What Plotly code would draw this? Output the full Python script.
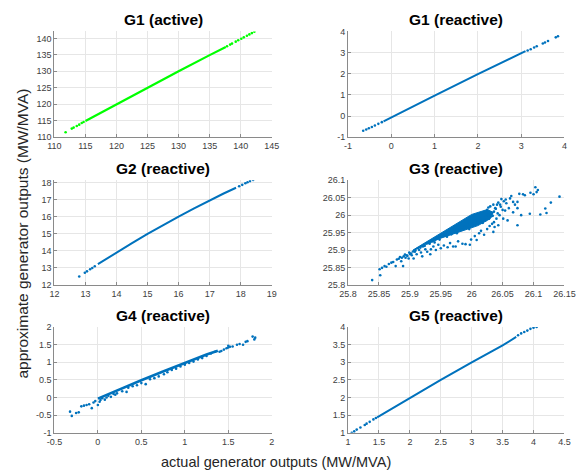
import plotly.graph_objects as go

BLUE = "#0072BD"
GREEN = "#00FF00"

# ---------------- data ----------------
# G1 active
g1a_dense_x = [115.0, 120.0, 125.0, 130.0, 135.0, 137.6]
g1a_dense_y = [114.9, 120.0, 125.0, 130.0, 134.9, 137.4]
g1a_x = [111.8, 112.8, 113.1, 113.6, 114.0, 114.4, 114.7, 137.8, 138.3, 138.6, 139.2, 139.6, 140.1, 140.5, 141.0, 141.4, 141.8, 142.2]
g1a_y = [111.5, 112.6, 112.9, 113.4, 113.8, 114.3, 114.6, 137.6, 138.1, 138.4, 139.0, 139.4, 139.9, 140.3, 140.8, 141.2, 141.6, 142.0]

# G1 reactive
g1r_dense_x = [-0.18, 0.0, 1.0, 2.0, 3.0, 3.1]
g1r_dense_y = [-0.25, -0.07, 0.96, 1.98, 2.98, 3.07]
g1r_x = [-0.65, -0.58, -0.52, -0.45, -0.38, -0.30, -0.22, 3.15, 3.22, 3.3, 3.36, 3.5, 3.55, 3.62, 3.8, 3.85]
g1r_y = [-0.70, -0.64, -0.58, -0.52, -0.45, -0.37, -0.29, 3.10, 3.16, 3.24, 3.30, 3.43, 3.48, 3.55, 3.72, 3.77]

# G2 reactive
g2_dense_x = [13.4, 13.7, 14.0, 14.5, 15.0, 15.5, 16.0, 16.5, 17.0, 17.45, 17.85]
g2_dense_y = [13.22, 13.57, 13.91, 14.46, 15.0, 15.52, 16.02, 16.5, 16.97, 17.37, 17.71]
g2_x = [12.8, 12.98, 13.05, 13.15, 13.22, 13.3, 17.95, 18.05, 18.15, 18.22, 18.3, 18.4]
g2_y = [12.5, 12.72, 12.8, 12.92, 13.0, 13.1, 17.8, 17.88, 17.97, 18.03, 18.1, 18.17]

# G3 reactive: dense core outline and scattered points
g3_core_x = [25.905, 25.95, 26.0, 26.025, 26.035, 26.03, 26.01, 25.98, 25.95, 25.925, 25.905]
g3_core_y = [25.900, 25.949, 26.002, 26.016, 26.008, 25.990, 25.970, 25.952, 25.934, 25.915, 25.898]
g3_x = [25.839, 25.852, 25.851, 25.855, 25.859, 25.862, 25.866, 25.870, 25.873, 25.877, 25.879, 25.882,
        25.886, 25.889, 25.890, 25.893, 25.896, 25.898, 25.900, 25.903, 25.906, 25.908, 25.911, 25.915,
        25.918, 25.920, 25.925, 25.928, 25.933, 25.934, 25.938, 25.942, 25.946, 25.950, 25.955, 25.961,
        25.965, 25.970, 25.974, 25.978, 25.985, 25.990, 25.997, 25.999, 26.005, 26.008, 26.012, 26.015,
        26.020, 26.025, 26.029, 26.033, 26.035, 26.037, 26.040, 26.043, 26.043, 26.045, 26.048, 26.050,
        26.051, 26.054, 26.056, 26.058, 26.060, 26.064, 26.067, 26.067, 26.070, 26.074, 26.074, 26.074,
        26.077, 26.080, 26.083, 26.086, 26.094, 26.095, 26.100, 26.103, 26.107, 26.105, 26.111, 26.119,
        26.121, 26.128, 26.142, 26.025, 26.030, 26.035, 26.038, 26.032, 26.028, 26.022, 26.046, 26.052,
        25.884, 25.887, 25.892, 25.895, 25.899, 25.902, 25.905, 25.909, 25.913, 25.917, 25.921, 25.924,
        25.929, 25.932, 25.936, 25.940, 25.944, 25.948, 25.952, 25.957, 25.960, 25.963, 25.967, 25.972,
        25.976, 25.981, 25.984, 25.988, 25.993, 25.996, 26.002, 26.006, 26.010, 26.014, 26.018, 26.023,
        26.027, 26.031, 26.036, 26.039, 26.042, 26.047, 26.055, 26.062, 26.036, 26.041, 26.034, 26.027]
g3_y = [25.814, 25.828, 25.845, 25.849, 25.854, 25.852, 25.860, 25.864, 25.866, 25.854, 25.873, 25.875,
        25.868, 25.854, 25.882, 25.878, 25.883, 25.876, 25.889, 25.885, 25.876, 25.895, 25.888, 25.900,
        25.893, 25.882, 25.902, 25.895, 25.888, 25.902, 25.910, 25.900, 25.915, 25.905, 25.913, 25.908,
        25.920, 25.910, 25.910, 25.925, 25.918, 25.917, 25.915, 25.930, 25.940, 25.929, 25.948, 25.955,
        25.944, 25.960, 25.969, 25.975, 25.952, 25.966, 25.990, 25.971, 26.036, 26.000, 26.046, 26.015,
        25.990, 26.013, 26.034, 25.985, 26.020, 26.055, 26.008, 26.038, 26.030, 26.020, 25.971, 26.038,
        26.061, 26.000, 26.060, 26.057, 26.004, 26.064, 26.060, 26.080, 26.072, 26.066, 26.002, 26.019,
        26.006, 26.036, 26.053, 26.015, 26.025, 26.030, 26.020, 26.005, 25.990, 25.985, 26.030, 26.040,
        25.880, 25.878, 25.887, 25.885, 25.893, 25.890, 25.896, 25.899, 25.905, 25.907, 25.910, 25.912,
        25.920, 25.918, 25.925, 25.922, 25.935, 25.930, 25.940, 25.945, 25.938, 25.950, 25.945, 25.958,
        25.948, 25.962, 25.958, 25.966, 25.972, 25.960, 25.975, 25.985, 25.980, 25.990, 25.978, 25.995,
        26.000, 25.996, 26.010, 26.018, 26.005, 26.024, 26.045, 26.048, 25.980, 26.030, 25.998, 26.022]

# G4 reactive
g4_dense_x = [0.0, 0.25, 0.5, 0.75, 1.0, 1.25, 1.38]
g4_dense_y = [-0.03, 0.24, 0.49, 0.74, 0.99, 1.22, 1.33]
g4_x = [-0.32, -0.30, -0.25, -0.22, -0.19, -0.16, -0.13, -0.10, -0.07, -0.05, -0.03, 0.00, 0.02, 0.03,
        0.05, 0.08, 0.10, 0.12, 0.15, 0.18, 0.20, 0.22, 0.28, 0.33, 0.35, 0.40, 0.45, 0.50, 0.55, 0.60,
        0.65, 0.70, 0.76, 0.80, 0.85, 0.90, 0.95, 1.00, 1.05, 1.10, 1.15, 1.20, 1.25, 1.30, 1.35, 1.40,
        1.42, 1.45, 1.48, 1.50, 1.50, 1.52, 1.55, 1.60, 1.63, 1.67, 1.70, 1.72, 1.78, 1.80, 1.81]
g4_y = [-0.40, -0.52, -0.44, -0.42, -0.25, -0.23, -0.21, -0.19, -0.30, -0.14, -0.10, -0.21, -0.12, -0.07,
        -0.02, -0.06, 0.00, 0.05, 0.02, 0.10, 0.08, 0.12, 0.18, 0.16, 0.28, 0.32, 0.35, 0.41, 0.38, 0.52,
        0.55, 0.60, 0.66, 0.72, 0.78, 0.82, 0.88, 0.93, 0.98, 1.02, 1.08, 1.12, 1.18, 1.25, 1.30, 1.30,
        1.32, 1.36, 1.40, 1.47, 1.42, 1.44, 1.45, 1.50, 1.52, 1.50, 1.58, 1.60, 1.73, 1.65, 1.70]

# G5 reactive
g5_dense_x = [1.47, 2.0, 2.5, 3.0, 3.5, 3.72]
g5_dense_y = [1.44, 1.99, 2.5, 3.0, 3.48, 3.72]
g5_x = [1.06, 1.10, 1.14, 1.20, 1.27, 1.30, 1.35, 1.41, 1.45, 3.75, 3.80, 3.85, 3.90, 3.95, 4.00, 4.05]
g5_y = [1.00, 1.04, 1.09, 1.15, 1.22, 1.26, 1.31, 1.38, 1.42, 3.77, 3.82, 3.86, 3.90, 3.95, 3.98, 4.00]

titles = ["G1 (active)", "G1 (reactive)", "G2 (reactive)", "G3 (reactive)", "G4 (reactive)", "G5 (reactive)"]

x_ticks = [
    [110, 115, 120, 125, 130, 135, 140, 145],
    [-1, 0, 1, 2, 3, 4],
    [12, 13, 14, 15, 16, 17, 18, 19],
    [25.8, 25.85, 25.9, 25.95, 26.0, 26.05, 26.1, 26.15],
    [-0.5, 0, 0.5, 1, 1.5, 2],
    [1, 1.5, 2, 2.5, 3, 3.5, 4, 4.5],
]
x_ticktext = [
    ["110", "115", "120", "125", "130", "135", "140", "145"],
    ["-1", "0", "1", "2", "3", "4"],
    ["12", "13", "14", "15", "16", "17", "18", "19"],
    ["25.8", "25.85", "25.9", "25.95", "26", "26.05", "26.1", "26.15"],
    ["-0.5", "0", "0.5", "1", "1.5", "2"],
    ["1", "1.5", "2", "2.5", "3", "3.5", "4", "4.5"],
]
y_ticks = [
    [110, 115, 120, 125, 130, 135, 140],
    [-1, 0, 1, 2, 3, 4],
    [12, 13, 14, 15, 16, 17, 18],
    [25.8, 25.85, 25.9, 25.95, 26.0, 26.05, 26.1],
    [-1, -0.5, 0, 0.5, 1, 1.5, 2],
    [1, 1.5, 2, 2.5, 3, 3.5, 4],
]
y_ticktext = [
    ["110", "115", "120", "125", "130", "135", "140"],
    ["-1", "0", "1", "2", "3", "4"],
    ["12", "13", "14", "15", "16", "17", "18"],
    ["25.8", "25.85", "25.9", "25.95", "26", "26.05", "26.1"],
    ["-1", "-0.5", "0", "0.5", "1", "1.5", "2"],
    ["1", "1.5", "2", "2.5", "3", "3.5", "4"],
]
x_ranges = [[110, 145], [-1, 4], [12, 19], [25.8, 26.15], [-0.5, 2], [1, 4.5]]
y_ranges = [[110, 142.1], [-1, 4], [12, 18.15], [25.8, 26.1], [-1, 2], [1, 4]]

# ---------------- figure ----------------
W, H = 588, 475
col_px = [(47, 272), (351, 575)]
row_px = [(27, 135), (179, 286), (329, 437)]

fig = go.Figure()

def add_series(i, dx, dy, sx, sy, color, lw=2.0):
    ax = "" if i == 0 else str(i + 1)
    fig.add_trace(go.Scatter(x=dx, y=dy, mode="lines", line=dict(color=color, width=lw),
                             xaxis="x" + ax, yaxis="y" + ax, showlegend=False, hoverinfo="skip"))
    fig.add_trace(go.Scatter(x=sx, y=sy, mode="markers", marker=dict(color=color, size=2.6, line=dict(width=0)),
                             xaxis="x" + ax, yaxis="y" + ax, showlegend=False))

add_series(0, g1a_dense_x, g1a_dense_y, g1a_x, g1a_y, GREEN, 2.2)
add_series(1, g1r_dense_x, g1r_dense_y, g1r_x, g1r_y, BLUE, 2.0)
add_series(2, g2_dense_x, g2_dense_y, g2_x, g2_y, BLUE, 2.0)
# G3: dense core as filled outline + scattered points
fig.add_trace(go.Scatter(x=g3_core_x, y=g3_core_y, mode="lines", fill="toself", fillcolor=BLUE,
                         line=dict(color=BLUE, width=1), xaxis="x4", yaxis="y4", showlegend=False, hoverinfo="skip"))
fig.add_trace(go.Scatter(x=g3_x, y=g3_y, mode="markers", marker=dict(color=BLUE, size=2.6, line=dict(width=0)),
                         xaxis="x4", yaxis="y4", showlegend=False))
add_series(4, g4_dense_x, g4_dense_y, g4_x, g4_y, BLUE, 2.6)
add_series(5, g5_dense_x, g5_dense_y, g5_x, g5_y, BLUE, 2.0)

layout = dict(
    width=W, height=H,
    margin=dict(l=0, r=0, t=0, b=0),
    paper_bgcolor="white", plot_bgcolor="white",
    font=dict(family="Liberation Sans, Arial, sans-serif", size=9, color="#404040"),
    showlegend=False,
)
annotations = []
for i in range(6):
    r, c = divmod(i, 2)
    x0, x1 = col_px[c]
    y0, y1 = row_px[r]
    ax = "" if i == 0 else str(i + 1)
    common = dict(showgrid=True, gridcolor="#e6e6e6", gridwidth=1, zeroline=False,
                  showline=True, linecolor="#8a8a8a", linewidth=1,
                  ticks="inside", ticklen=3, tickcolor="#8a8a8a",
                  tickfont=dict(size=9, color="#404040"))
    layout["xaxis" + ax] = dict(domain=[x0 / W, x1 / W], range=x_ranges[i], tickmode="array",
                                tickvals=x_ticks[i], ticktext=x_ticktext[i],
                                anchor="y" + ax, **common)
    layout["yaxis" + ax] = dict(domain=[1 - y1 / H, 1 - y0 / H], range=y_ranges[i], tickmode="array",
                                tickvals=y_ticks[i], ticktext=y_ticktext[i],
                                anchor="x" + ax, **common)
    annotations.append(dict(text="<b>" + titles[i] + "</b>", xref="paper", yref="paper",
                            x=(x0 + x1) / 2 / W, y=1 - (y0 - 12) / H, xanchor="center", yanchor="middle",
                            showarrow=False, font=dict(size=15.5, color="black")))

annotations.append(dict(text="actual generator outputs (MW/MVA)", xref="paper", yref="paper",
                        x=276 / W, y=1 - 467 / H, xanchor="center", yanchor="middle", showarrow=False,
                        font=dict(size=14.5, color="#262626")))
annotations.append(dict(text="approximate generator outputs (MW/MVA)", xref="paper", yref="paper",
                        x=14 / W, y=1 - 234 / H, xanchor="center", yanchor="middle", showarrow=False,
                        textangle=-90, font=dict(size=15.5, color="#262626")))
layout["annotations"] = annotations
fig.update_layout(**layout)
fig.write_html("out.html", config={"displayModeBar": False},
               post_script="document.body.style.margin='0';document.body.style.padding='0';")
